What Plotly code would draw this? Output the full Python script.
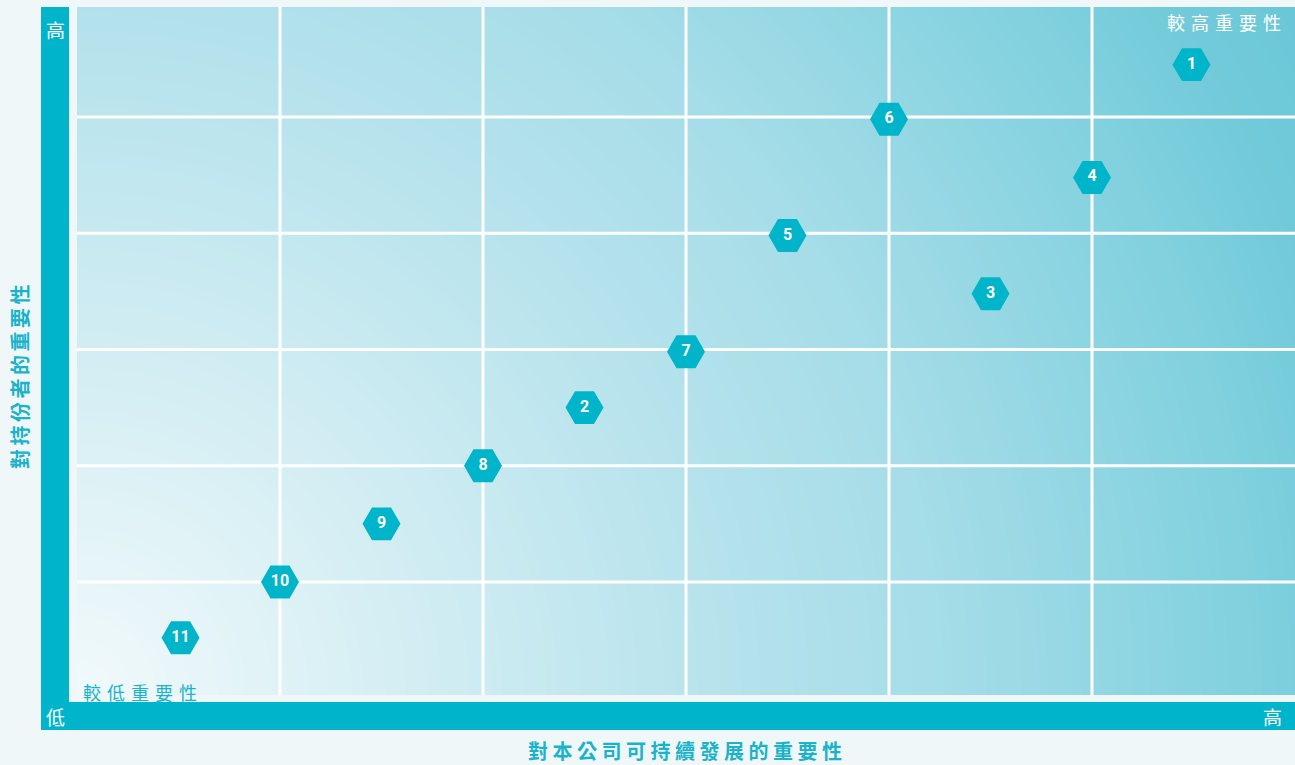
import numpy as np
import plotly.graph_objects as go

# ---- data ----
labels = ["1", "2", "3", "4", "5", "6", "7", "8", "9", "10", "11"]
x_vals = [5.49, 2.5, 4.5, 5.0, 3.5, 4.0, 3.0, 2.0, 1.5, 1.0, 0.51]
y_vals = [5.45, 2.5, 3.48, 4.48, 3.98, 4.98, 2.98, 2.0, 1.5, 1.0, 0.52]
grid_x = [1, 2, 3, 4, 5]
grid_y = [1, 2, 3, 4, 5]
title_x = "對本公司可持續發展的重要性"
title_y = "對持份者的重要性"
label_high = "較高重要性"
label_low = "較低重要性"

W, H = 1295, 765
L, R, T, B = 77, 1295, 7, 695          # plot area in pixels
X_RANGE = [0, 6]
Y_RANGE = [0.028, 5.946]
TEAL = "#00b5cb"
TEXT_TEAL = "#1ab3c9"

def xp(px):
    return (px - L) / (R - L)

def yp(py):
    return (B - py) / (B - T)

fig = go.Figure()

# gradient background (radial from bottom-left)
gx = np.linspace(-0.1, 6.1, 140)
gy = np.linspace(-0.1, 6.1, 100)
GX, GY = np.meshgrid(gx, gy)
px_per_x = (R - L) / (X_RANGE[1] - X_RANGE[0])
px_per_y = (B - T) / (Y_RANGE[1] - Y_RANGE[0])
D = np.sqrt(((GX - X_RANGE[0]) * px_per_x) ** 2 + ((GY - Y_RANGE[0]) * px_per_y) ** 2)
D = np.clip(D / np.hypot(R - L, B - T), 0, 1)
fig.add_trace(go.Heatmap(
    x=gx, y=gy, z=D, zmin=0, zmax=1, zsmooth="best", showscale=False,
    hoverinfo="skip",
    colorscale=[
        [0.0, "rgb(241,249,251)"],
        [0.03, "rgb(238,248,250)"],
        [0.47, "rgb(181,226,236)"],
        [0.61, "rgb(166,221,232)"],
        [0.85, "rgb(127,208,222)"],
        [0.91, "rgb(116,203,218)"],
        [1.0, "rgb(106,199,215)"],
    ],
))

# grid lines
lx, ly = [], []
for g in grid_x:
    lx += [g, g, None]
    ly += [Y_RANGE[0] - 1, Y_RANGE[1] + 1, None]
for g in grid_y:
    lx += [X_RANGE[0] - 1, X_RANGE[1] + 1, None]
    ly += [g, g, None]
fig.add_trace(go.Scatter(x=lx, y=ly, mode="lines", line=dict(color="white", width=3),
                         hoverinfo="skip", showlegend=False))

# hexagon markers
fig.add_trace(go.Scatter(
    x=x_vals, y=y_vals, mode="markers+text", text=labels,
    textposition="middle center",
    textfont=dict(family="Roboto", size=16, color="white", weight="bold"),
    marker=dict(symbol="hexagon2", size=38, color="#00b4ca", line=dict(width=0)),
    hoverinfo="skip", showlegend=False,
))

shapes = [
    dict(type="rect", xref="paper", yref="paper", x0=xp(41), x1=xp(69), y0=yp(730), y1=yp(7),
         fillcolor=TEAL, line=dict(width=0), layer="above"),
    dict(type="rect", xref="paper", yref="paper", x0=xp(41), x1=xp(1295), y0=yp(730), y1=yp(702),
         fillcolor=TEAL, line=dict(width=0), layer="above"),
]

cjk = "Noto Sans CJK TC"
annotations = [
    dict(text="高", x=xp(55), y=yp(30), xref="paper", yref="paper", showarrow=False,
         font=dict(family=cjk, size=19, color="white"), xanchor="center", yanchor="middle"),
    dict(text="低", x=xp(55), y=yp(716), xref="paper", yref="paper", showarrow=False,
         font=dict(family=cjk, size=19, color="white"), xanchor="center", yanchor="middle"),
    dict(text="高", x=xp(1272), y=yp(716), xref="paper", yref="paper", showarrow=False,
         font=dict(family=cjk, size=19, color="white"), xanchor="center", yanchor="middle"),
    dict(text='<span style="letter-spacing:6px">' + label_high + '</span>', x=xp(1289), y=yp(22),
         xref="paper", yref="paper", showarrow=False,
         font=dict(family=cjk, size=18, color="white"), xanchor="right", yanchor="middle"),
    dict(text='<span style="letter-spacing:6px">' + label_low + '</span>', x=xp(81), y=yp(692),
         xref="paper", yref="paper", showarrow=False,
         font=dict(family=cjk, size=18, color=TEXT_TEAL), xanchor="left", yanchor="middle"),
    dict(text='<span style="letter-spacing:4.5px">' + title_x + '</span>', x=xp(687), y=yp(750),
         xref="paper", yref="paper", showarrow=False,
         font=dict(family=cjk, size=20, color=TEXT_TEAL, weight="bold"), xanchor="center", yanchor="middle"),
    dict(text='<span style="letter-spacing:3.5px">' + title_y + '</span>', x=xp(19), y=yp(375),
         xref="paper", yref="paper", showarrow=False, textangle=-90,
         font=dict(family=cjk, size=20, color=TEXT_TEAL, weight="bold"), xanchor="center", yanchor="middle"),
]

fig.update_layout(
    width=W, height=H,
    margin=dict(l=L, r=W - R, t=T, b=H - B, pad=0),
    paper_bgcolor="#f0f7f9", plot_bgcolor="#f0f7f9",
    xaxis=dict(range=X_RANGE, showgrid=False, zeroline=False, showticklabels=False,
               ticks="", showline=False, fixedrange=True),
    yaxis=dict(range=Y_RANGE, showgrid=False, zeroline=False, showticklabels=False,
               ticks="", showline=False, fixedrange=True),
    shapes=shapes, annotations=annotations, showlegend=False,
)

fig.write_html(
    "out.html",
    config={"displayModeBar": False},
    post_script="document.body.style.margin='0';document.body.style.padding='0';"
                "document.body.style.overflow='hidden';"
                "document.body.style.background='#f0f7f9';",
)
